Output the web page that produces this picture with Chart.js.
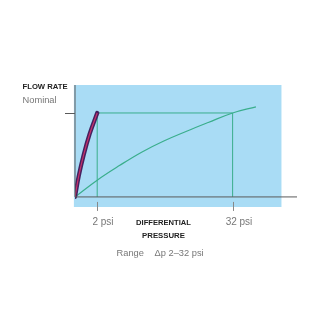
<!DOCTYPE html>
<html>
<head>
<meta charset="utf-8">
<style>
  html, body { margin: 0; padding: 0; background: #fff; }
  #wrap { width: 320px; height: 320px; }
</style>
<script src="https://cdn.jsdelivr.net/npm/chart.js@4.4.0/dist/chart.umd.min.js"></script>
</head>
<body>
<div id="wrap"><canvas id="flowChart" width="320" height="320"></canvas></div>
<script>
// schematic units: x 0..100 along the pressure axis, y 0..100 flow
const tickLabels = ["2 psi", "32 psi"];
const tickPositions = [10, 71];
const nominalFlow = 75;

// slow-rising curve (green)
const greenX = [0, 10, 20, 30, 40, 50, 60, 71, 81.5];
const greenY = [0, 15, 28, 40, 50, 58.5, 66.5, 75, 80.5];

// fast-rising curve (purple)
const purpleX = [0, 1.7, 3.9, 6.6, 10];
const purpleY = [0, 18.75, 37.5, 56.25, 75];

const pts = (xs, ys) => xs.map((x, i) => ({ x, y: ys[i] }));

const green = "#3aae8c";
const axisColor = "#5a5a5a";
const font = "'Liberation Sans', Arial, sans-serif";

const backdrop = {
  id: "backdrop",
  beforeDatasetsDraw(chart) {
    const { ctx, scales: { x, y } } = chart;
    ctx.save();
    ctx.fillStyle = "#a9dcf5";
    const l = x.getPixelForValue(-0.5), r = x.getPixelForValue(93);
    const t = y.getPixelForValue(100), b = y.getPixelForValue(-9);
    ctx.fillRect(l, t, r - l, b - t);
    ctx.restore();
  },
  afterDatasetsDraw(chart) {
    const { ctx, scales: { x, y } } = chart;
    const x0 = x.getPixelForValue(0), y0 = y.getPixelForValue(0);
    ctx.save();
    ctx.strokeStyle = axisColor;
    ctx.lineWidth = 1;
    ctx.beginPath();
    // axes
    ctx.moveTo(x0, y.getPixelForValue(100));
    ctx.lineTo(x0, y0);
    ctx.lineTo(x.getPixelForValue(100), y0);
    // nominal tick on y
    const yn = Math.round(y.getPixelForValue(nominalFlow)) + 0.5;
    ctx.moveTo(x0 - 10, yn);
    ctx.lineTo(x0, yn);
    ctx.stroke();

    // x ticks and labels
    ctx.strokeStyle = "#888";
    ctx.textBaseline = "middle";
    tickPositions.forEach((v, i) => {
      const px = Math.round(x.getPixelForValue(v)) + 0.5;
      ctx.beginPath();
      ctx.moveTo(px, y0 + 5);
      ctx.lineTo(px, y0 + 14);
      ctx.stroke();
      ctx.fillStyle = "#777";
      ctx.font = "10px " + font;
      ctx.textAlign = "center";
      ctx.fillText(tickLabels[i], px + 5.5, y0 + 25);
    });

    // axis titles
    ctx.fillStyle = "#222";
    ctx.font = "bold 7.6px " + font;
    ctx.textAlign = "center";
    ctx.fillText("DIFFERENTIAL", 163.5, 223);
    ctx.font = "bold 7.8px " + font;
    ctx.fillText("PRESSURE", 163.5, 236);
    ctx.fillStyle = "#777";
    ctx.font = "9.3px " + font;
    ctx.textAlign = "left";
    ctx.fillText("Range", 116.5, 253.5);
    ctx.fillText("\u0394p 2\u201332 psi", 154.5, 253.5);

    ctx.fillStyle = "#222";
    ctx.font = "bold 7.7px " + font;
    ctx.fillText("FLOW RATE", 22.5, 86.5);
    ctx.fillStyle = "#777";
    ctx.font = "9.3px " + font;
    ctx.fillText("Nominal", 22.5, 100);
    ctx.restore();
  }
};

const refLine = (data) => ({
  data, borderColor: green, borderWidth: 1, pointRadius: 0, order: 5
});

new Chart(document.getElementById("flowChart"), {
  type: "scatter",
  data: {
    datasets: [
      refLine([{ x: tickPositions[0], y: nominalFlow }, { x: tickPositions[1], y: nominalFlow }]),
      refLine([{ x: tickPositions[0], y: 0 }, { x: tickPositions[0], y: nominalFlow }]),
      refLine([{ x: tickPositions[1], y: 0 }, { x: tickPositions[1], y: nominalFlow }]),
      {
        data: pts(greenX, greenY), borderColor: green, borderWidth: 1.2,
        pointRadius: 0, tension: 0.4, order: 4
      },
      {
        data: pts(purpleX, purpleY), borderColor: "#45215f", borderWidth: 4.2,
        pointRadius: 0, tension: 0.4, borderCapStyle: "round", order: 2
      },
      {
        data: pts(purpleX, purpleY), borderColor: "#c8306a", borderWidth: 1.2,
        pointRadius: 0, tension: 0.4, order: 1
      }
    ]
  },
  options: {
    responsive: false,
    animation: false,
    showLine: true,
    layout: { padding: { left: 75, right: 23, top: 85, bottom: 113 } },
    scales: {
      x: { type: "linear", min: 0, max: 100, display: false },
      y: { type: "linear", min: -9, max: 100, display: false }
    },
    plugins: { legend: { display: false }, tooltip: { enabled: false } }
  },
  plugins: [backdrop]
});
</script>
</body>
</html>
